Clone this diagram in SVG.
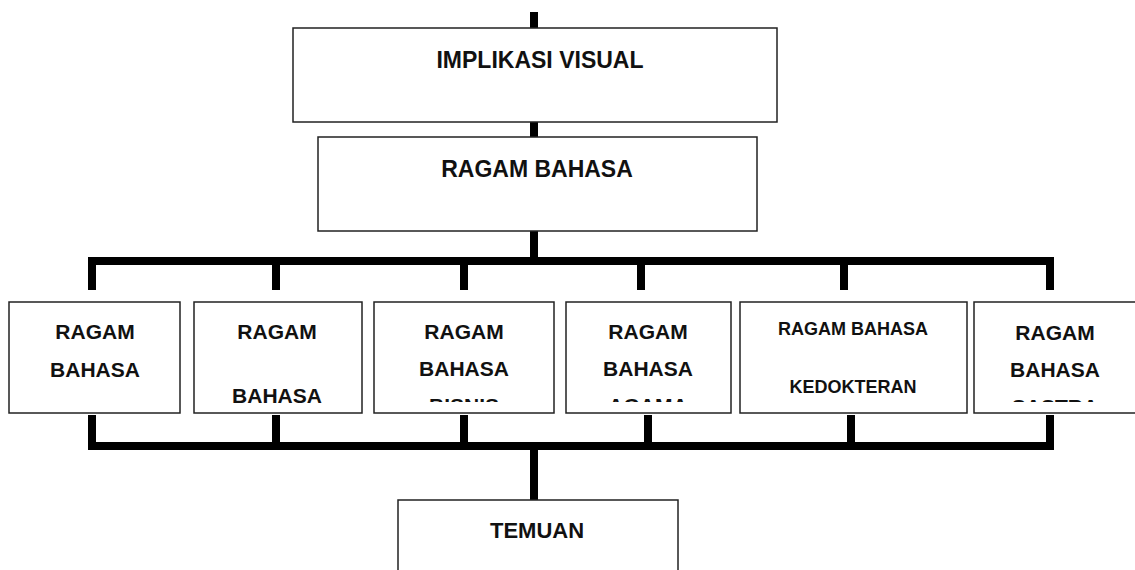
<svg xmlns="http://www.w3.org/2000/svg" width="1135" height="570" viewBox="0 0 1135 570">
<style>
.box{fill:#fff;stroke:#222;stroke-width:1.5}
.t{font-family:"Liberation Sans",Arial,sans-serif;font-weight:bold;fill:#111;text-anchor:middle}
.c{stroke:#000;stroke-width:8;fill:none}
</style>
<defs>
<clipPath id="cb3"><rect x="374" y="302" width="180" height="100"/></clipPath>
<clipPath id="cb4"><rect x="566" y="302" width="165" height="100"/></clipPath>
<clipPath id="cb6"><rect x="974" y="302" width="170" height="100"/></clipPath>
</defs>
<rect width="1135" height="570" fill="#fff"/>
<g id="connectors">
<line class="c" x1="534" y1="12" x2="534" y2="28"/>
<line class="c" x1="534" y1="122" x2="534" y2="137"/>
<line class="c" x1="534" y1="231" x2="534" y2="261"/>
<polyline class="c" points="92,290 92,261 1050,261 1050,290"/>
<line class="c" x1="276" y1="261" x2="276" y2="290"/>
<line class="c" x1="464" y1="261" x2="464" y2="290"/>
<line class="c" x1="641" y1="261" x2="641" y2="290"/>
<line class="c" x1="844" y1="261" x2="844" y2="290"/>
<polyline class="c" points="92,415 92,446 1050,446 1050,415"/>
<line class="c" x1="276" y1="415" x2="276" y2="446"/>
<line class="c" x1="464" y1="415" x2="464" y2="446"/>
<line class="c" x1="648" y1="415" x2="648" y2="446"/>
<line class="c" x1="851" y1="415" x2="851" y2="446"/>
<line class="c" x1="534" y1="446" x2="534" y2="500"/>
</g>
<g id="implikasi">
<rect class="box" x="293" y="28" width="484" height="94"/>
<text class="t" x="540" y="68" font-size="23">IMPLIKASI VISUAL</text>
</g>
<g id="ragam-bahasa">
<rect class="box" x="318" y="137" width="439" height="94"/>
<text class="t" x="537" y="177" font-size="23">RAGAM BAHASA</text>
</g>
<g id="box1">
<rect class="box" x="9" y="302" width="171" height="111"/>
<text class="t" x="95" y="339" font-size="21">RAGAM</text>
<text class="t" x="95" y="377" font-size="21">BAHASA</text>
</g>
<g id="box2">
<rect class="box" x="194" y="302" width="168" height="111"/>
<text class="t" x="277" y="339" font-size="21">RAGAM</text>
<text class="t" x="277" y="403" font-size="21">BAHASA</text>
</g>
<g id="box3">
<rect class="box" x="374" y="302" width="180" height="111"/>
<g clip-path="url(#cb3)">
<text class="t" x="464" y="339" font-size="21">RAGAM</text>
<text class="t" x="464" y="376" font-size="21">BAHASA</text>
<text class="t" x="464" y="413" font-size="21">BISNIS</text>
</g>
</g>
<g id="box4">
<rect class="box" x="566" y="302" width="165" height="111"/>
<g clip-path="url(#cb4)">
<text class="t" x="648" y="339" font-size="21">RAGAM</text>
<text class="t" x="648" y="376" font-size="21">BAHASA</text>
<text class="t" x="648" y="413" font-size="21">AGAMA</text>
</g>
</g>
<g id="box5">
<rect class="box" x="740" y="302" width="227" height="111"/>
<text class="t" x="853" y="335" font-size="18">RAGAM BAHASA</text>
<text class="t" x="853" y="393" font-size="18">KEDOKTERAN</text>
</g>
<g id="box6">
<rect class="box" x="974" y="302" width="170" height="111"/>
<g clip-path="url(#cb6)">
<text class="t" x="1055" y="340" font-size="21">RAGAM</text>
<text class="t" x="1055" y="377" font-size="21">BAHASA</text>
<text class="t" x="1055" y="414" font-size="21">SASTRA</text>
</g>
</g>
<g id="temuan">
<rect class="box" x="398" y="500" width="280" height="80"/>
<text class="t" x="537" y="538" font-size="22">TEMUAN</text>
</g>
</svg>
